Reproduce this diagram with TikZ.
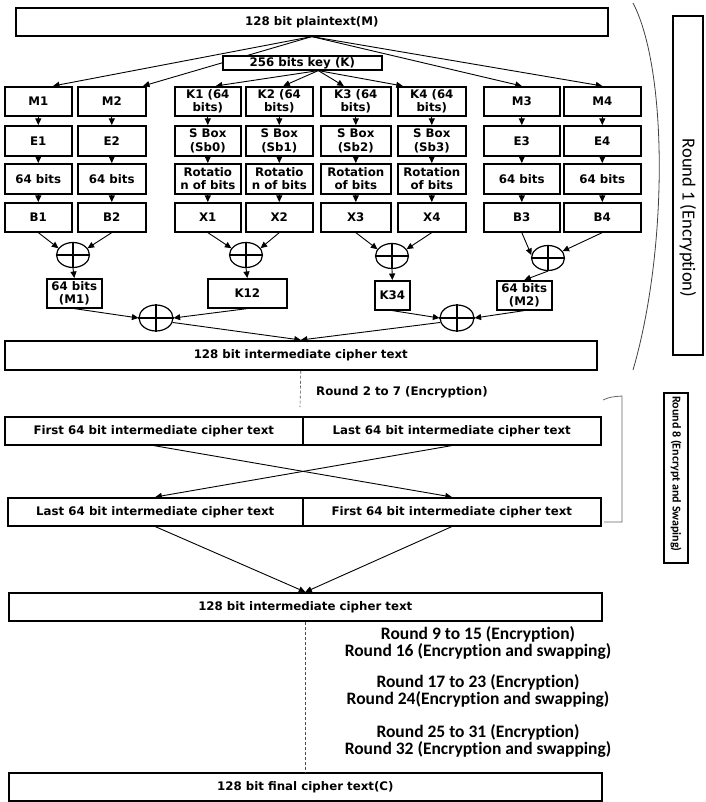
\documentclass[tikz,border=0pt]{standalone}
\usepackage{fontspec}
\setmainfont{DejaVu Sans}
\newfontfamily\calfont[Ligatures=NoCommon]{Carlito}
\usetikzlibrary{arrows.meta,shapes.geometric,calc}
\begin{document}
\begin{tikzpicture}[x=1pt,y=-1pt,
  box/.style={draw, line width=1.6pt, fill=white, inner sep=0pt, align=center, anchor=north west,
    font=\bfseries\fontsize{11.8}{13.5}\selectfont},
  xorn/.style={draw, ellipse, line width=1.2pt, inner sep=0pt, minimum width=33pt, minimum height=25pt},
  arr/.style={line width=0.9pt, -{Triangle[length=6.5pt,width=6pt]}},
  lbl/.style={inner sep=0pt, font=\bfseries\fontsize{11.8}{13.5}\selectfont},
  rnd/.style={inner sep=0pt, align=center, font=\calfont\bfseries\fontsize{17.5}{17}\selectfont},
  dsh/.style={line width=0.6pt, dash pattern=on 3pt off 2pt, black!70}
]
\useasboundingbox (0,0) rectangle (705,802);

% top boxes
\node[box, minimum width=592pt, minimum height=28pt] (pt) at (15,7) {128 bit plaintext(M)};

% column boxes
\foreach \n/\x/\w/\ta/\tb/\tc/\td in {
  1/4/67/M1/E1/64 bits/B1,
  2/77/68/M2/E2/64 bits/B2,
  3/174/66/K1 (64\\bits)/S Box\\(Sb0)/Rotatio\\n of bits/X1,
  4/245/67/K2 (64\\bits)/S Box\\(Sb1)/Rotatio\\n of bits/X2,
  5/320/70/K3 (64\\bits)/S Box\\(Sb2)/Rotation\\of bits/X3,
  6/397/68/K4 (64\\bits)/S Box\\(Sb3)/Rotation\\of bits/X4,
  7/483/76/M3/E3/64 bits/B3,
  8/563/77/M4/E4/64 bits/B4}{
  \node[box, minimum width=\w pt, minimum height=29pt] (c\n-1) at (\x,86) {\ta};
  \node[box, minimum width=\w pt, minimum height=30pt] (c\n-2) at (\x,125) {\tb};
  \node[box, minimum width=\w pt, minimum height=30pt] (c\n-3) at (\x,163) {\tc};
  \node[box, minimum width=\w pt, minimum height=29pt] (c\n-4) at (\x,202) {\td};
}

% plaintext arrows (drawn before key box so it covers them)
\draw[arr] (pt.south) -- ($(c1-1.north west)+(49,0)$);
\draw[arr] (pt.south) -- ($(c2-1.north west)+(66,0)$);
\draw[arr] (pt.south) -- (c7-1.north);
\draw[arr] (pt.south) -- (c8-1.north);

\node[box, minimum width=159pt, minimum height=14pt] (key) at (222,55) {256 bits key (K)};

\draw[arr] ($(key.south)+(16,0)$) -- ($(c3-1.north)+(8,0)$);
\draw[arr] ($(key.south)+(16,0)$) -- ($(c4-1.north)+(4,0)$);
\draw[arr] ($(key.south)+(16,0)$) -- ($(c5-1.north)+(-12,0)$);
\draw[arr] ($(key.south)+(16,0)$) -- ($(c6-1.north)+(-29,0)$);

\foreach \c in {1,...,8}{
  \foreach \r/\s in {1/2,2/3,3/4}{
    \draw[arr] (c\c-\r.south) -- (c\c-\s.north);
  }
}

% XOR nodes
\node[xorn] (xa) at (73,255) {};
\node[xorn] (xb) at (246,255) {};
\node[xorn] (xc) at (392,256) {};
\node[xorn] (xd) at (548,258) {};
\node[xorn, minimum width=34pt, minimum height=26pt] (xe) at (156,318) {};
\node[xorn, minimum width=34pt, minimum height=26pt] (xf) at (457,318) {};
\foreach \x in {xa,xb,xc,xd,xe,xf}{
  \draw[line width=1.2pt] (\x.north) -- (\x.south) (\x.west) -- (\x.east);
}

% second-level boxes
\node[box, minimum width=55pt, minimum height=29pt] (mb1) at (46,278) {64 bits\\(M1)};
\node[box, minimum width=79pt, minimum height=29pt] (k12) at (207,278) {K12};
\node[box, minimum width=35pt, minimum height=29pt] (k34) at (374,280) {K34};
\node[box, minimum width=55pt, minimum height=29pt] (mb2) at (496,280) {64 bits\\(M2)};

\draw[arr] (c1-4.south) -- (xa.155);
\draw[arr] (c2-4.south) -- (xa.25);
\draw[arr] (c3-4.south) -- (xb.155);
\draw[arr] (c4-4.south) -- (xb.25);
\draw[arr] (c5-4.south) -- (xc.155);
\draw[arr] (c6-4.south) -- (xc.25);
\draw[arr] (c7-4.south) -- (xd.170);
\draw[arr] (c8-4.south) -- (xd.25);

\draw[arr] (xa.south) -- (mb1.north);
\draw[arr] (xb.south) -- (k12.north);
\draw[arr] (xc.south) -- (k34.north);
\draw[arr] (xd.south) -- (mb2.north);

\draw[arr] (mb1.south) -- (xe.west);
\draw[arr] (k12.south) -- (xe.east);
\draw[arr] (k34.south) -- (xf.west);
\draw[arr] (mb2.south) -- (xf.east);

\node[box, minimum width=592pt, minimum height=29pt] (ic1) at (4,340) {128 bit intermediate cipher text};
\draw[arr] (xe.-15) -- (ic1.north);
\draw[arr] (xf.195) -- (ic1.north);

\coordinate (d1) at (300,407);
\draw[dsh] (ic1.south) -- (d1);
\node[lbl, anchor=west] (t27) at (316,392) {Round 2 to 7 (Encryption)};

% swap section
\node[box, minimum width=298pt, minimum height=28pt] (fa) at (4,416) {First 64 bit intermediate cipher text};
\node[box, minimum width=298pt, minimum height=28pt] (la) at (302,416) {Last 64 bit intermediate cipher text};
\node[box, minimum width=295pt, minimum height=28pt] (lb) at (7,497) {Last 64 bit intermediate cipher text};
\node[box, minimum width=298pt, minimum height=28pt] (fb) at (302,497) {First 64 bit intermediate cipher text};

\draw[arr] (fa.south) -- (fb.north);
\draw[arr] (la.south) -- (lb.north);

\node[box, minimum width=593pt, minimum height=28pt] (ic2) at (8,592) {128 bit intermediate cipher text};
\draw[arr] (lb.south) -- (ic2.north);
\draw[arr] (fb.south) -- (ic2.north);

\node[box, minimum width=593pt, minimum height=28pt] (fc) at (8,772) {128 bit final cipher text(C)};
\draw[dsh] (ic2.south) -- (fc.north);

\node[rnd] (r1t) at (478,642.5) {Round 9 to 15 (Encryption)\\Round 16 (Encryption and swapping)};
\node[rnd] (r2t) at (478,691) {Round 17 to 23 (Encryption)\\Round 24(Encryption and swapping)};
\node[rnd] (r3t) at (478,740.5) {Round 25 to 31 (Encryption)\\Round 32 (Encryption and swapping)};

% right side
\draw[line width=0.8pt, black!75] (633,3) .. controls (668,70) and (668,250) .. (633,370);
\node[draw, line width=1.6pt, inner sep=0pt, minimum width=30pt, minimum height=339pt] (r1) at (688,185.5) {};
\node[inner sep=0pt, rotate=-90, font=\calfont\fontsize{18.5}{20}\selectfont] (r1l) at (688,218) {Round 1 (Encryption)};

\draw[line width=0.8pt, black!60] (603,400) .. controls (610,397) .. (622,396) -- (622,522) -- (604,522);
\node[draw, line width=1.6pt, inner sep=0pt, minimum width=24pt, minimum height=170pt] (r8) at (676,478) {};
\node[inner sep=0pt, rotate=-90, font=\calfont\bfseries\fontsize{12}{14}\selectfont] (r8l) at (676,474) {Round 8 (Encrypt and Swaping)};
\end{tikzpicture}
\end{document}
